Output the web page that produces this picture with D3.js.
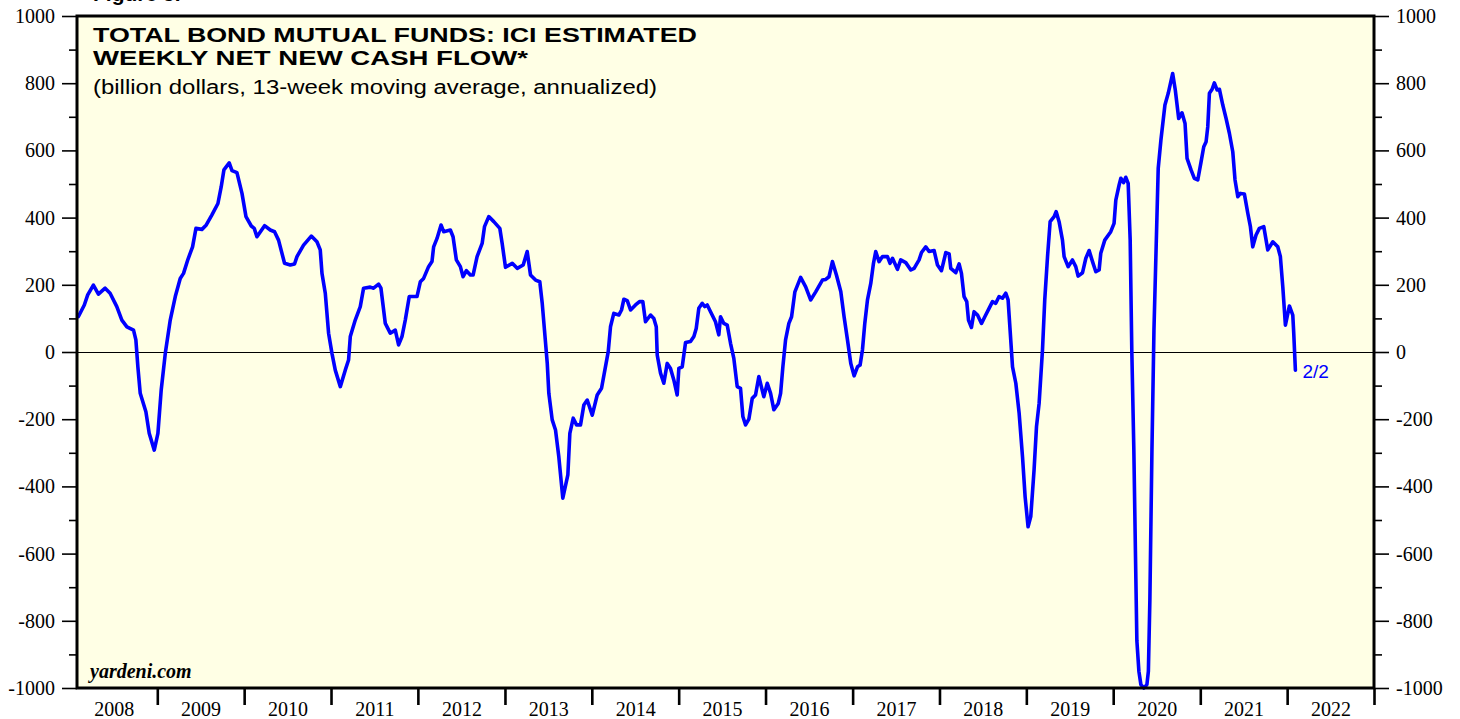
<!DOCTYPE html>
<html>
<head>
<meta charset="utf-8">
<script src="https://cdn.jsdelivr.net/npm/d3@7"></script>
<style>
  body { margin: 0; background: #fff; }
  svg { display: block; }
  .axis text { font-family: "Liberation Serif", "Times New Roman", serif; font-size: 20px; fill: #000; }
  .axis line { stroke: #000; }
  .axis .domain { display: none; }
  .title { font-family: "Liberation Sans", Arial, sans-serif; font-weight: bold; font-size: 21px; fill: #000; }
  .subtitle { font-family: "Liberation Sans", Arial, sans-serif; font-size: 20px; fill: #000; }
  .source { font-family: "Liberation Serif", "Times New Roman", serif; font-weight: bold; font-style: italic; font-size: 20px; fill: #000; }
</style>
</head>
<body>
<div id="chart"></div>
<script>
var periods = [
  2008.093, 2008.162, 2008.201, 2008.266, 2008.324, 2008.401, 2008.458, 2008.535, 2008.593, 2008.651,
  2008.727, 2008.754, 2008.777, 2008.804, 2008.869, 2008.907, 2008.965, 2009.007, 2009.045, 2009.092,
  2009.149, 2009.207, 2009.264, 2009.302, 2009.353, 2009.406, 2009.445, 2009.514, 2009.564, 2009.629,
  2009.698, 2009.736, 2009.767, 2009.828, 2009.860, 2009.917, 2009.975, 2010.021, 2010.082, 2010.116,
  2010.147, 2010.235, 2010.301, 2010.350, 2010.396, 2010.465, 2010.531, 2010.580, 2010.608, 2010.684,
  2010.773, 2010.838, 2010.876, 2010.896, 2010.934, 2010.972, 2011.011, 2011.049, 2011.107, 2011.164,
  2011.202, 2011.222, 2011.279, 2011.337, 2011.375, 2011.452, 2011.490, 2011.548, 2011.575, 2011.625,
  2011.682, 2011.740, 2011.778, 2011.817, 2011.855, 2011.901, 2011.990, 2012.028, 2012.066, 2012.123,
  2012.162, 2012.181, 2012.220, 2012.266, 2012.296, 2012.373, 2012.404, 2012.442, 2012.488, 2012.519,
  2012.557, 2012.603, 2012.634, 2012.680, 2012.738, 2012.765, 2012.814, 2012.872, 2012.941, 2012.968,
  2013.006, 2013.084, 2013.141, 2013.210, 2013.256, 2013.294, 2013.352, 2013.401, 2013.429, 2013.455,
  2013.487, 2013.505, 2013.544, 2013.582, 2013.620, 2013.666, 2013.724, 2013.747, 2013.786, 2013.824,
  2013.870, 2013.908, 2013.947, 2014.005, 2014.062, 2014.112, 2014.150, 2014.189, 2014.215, 2014.253,
  2014.311, 2014.342, 2014.369, 2014.408, 2014.446, 2014.503, 2014.549, 2014.587, 2014.618, 2014.676,
  2014.714, 2014.742, 2014.753, 2014.791, 2014.829, 2014.868, 2014.906, 2014.944, 2014.983, 2015.002,
  2015.041, 2015.079, 2015.136, 2015.175, 2015.202, 2015.232, 2015.271, 2015.301, 2015.329, 2015.367,
  2015.424, 2015.462, 2015.482, 2015.520, 2015.559, 2015.597, 2015.635, 2015.674, 2015.712, 2015.739,
  2015.770, 2015.808, 2015.847, 2015.885, 2015.923, 2015.980, 2016.020, 2016.058, 2016.096, 2016.146,
  2016.173, 2016.199, 2016.230, 2016.268, 2016.299, 2016.337, 2016.403, 2016.461, 2016.518, 2016.576,
  2016.653, 2016.691, 2016.729, 2016.768, 2016.814, 2016.864, 2016.902, 2016.941, 2016.979, 2017.017,
  2017.056, 2017.086, 2017.113, 2017.140, 2017.171, 2017.209, 2017.240, 2017.266, 2017.304, 2017.344,
  2017.401, 2017.431, 2017.459, 2017.516, 2017.554, 2017.612, 2017.670, 2017.708, 2017.765, 2017.793,
  2017.842, 2017.880, 2017.938, 2017.977, 2018.023, 2018.073, 2018.111, 2018.130, 2018.188, 2018.226,
  2018.253, 2018.283, 2018.314, 2018.334, 2018.368, 2018.398, 2018.438, 2018.484, 2018.522, 2018.571,
  2018.610, 2018.648, 2018.686, 2018.725, 2018.763, 2018.790, 2018.813, 2018.841, 2018.879, 2018.917,
  2018.956, 2018.986, 2019.020, 2019.051, 2019.089, 2019.117, 2019.147, 2019.186, 2019.212, 2019.244,
  2019.274, 2019.320, 2019.343, 2019.377, 2019.416, 2019.435, 2019.481, 2019.531, 2019.569, 2019.596,
  2019.647, 2019.685, 2019.723, 2019.762, 2019.800, 2019.838, 2019.857, 2019.903, 2019.972, 2020.010,
  2020.030, 2020.068, 2020.088, 2020.119, 2020.145, 2020.172, 2020.195, 2020.214, 2020.237, 2020.255,
  2020.272, 2020.295, 2020.318, 2020.352, 2020.387, 2020.404, 2020.421, 2020.445, 2020.468, 2020.517,
  2020.548, 2020.594, 2020.632, 2020.683, 2020.713, 2020.752, 2020.790, 2020.825, 2020.848, 2020.894,
  2020.932, 2020.971, 2021.009, 2021.040, 2021.067, 2021.086, 2021.105, 2021.136, 2021.162, 2021.193,
  2021.220, 2021.259, 2021.297, 2021.335, 2021.374, 2021.400, 2021.432, 2021.461, 2021.508, 2021.547,
  2021.577, 2021.604, 2021.642, 2021.680, 2021.731, 2021.777, 2021.835, 2021.892, 2021.922, 2021.950,
  2021.980, 2022.026, 2022.065, 2022.076, 2022.095
];

// billion dollars, 13-week moving average, annualized
var netFlows = [
  105, 140, 170, 199, 172, 190, 175, 135, 95, 75,
  65, 36, -44, -123, -178, -242, -292, -242, -113, -4,
  95, 165, 219, 234, 276, 313, 368, 365, 378, 408,
  442, 492, 542, 563, 540, 534, 472, 403, 375, 368,
  343, 376, 363, 358, 333, 264, 259, 262, 284, 318,
  345, 328, 304, 234, 175, 56, -4, -54, -103, -54,
  -24, 46, 95, 135, 190, 193, 190, 202, 190, 85,
  56, 65, 21, 46, 95, 165, 165, 209, 219, 254,
  269, 313, 338, 378, 358, 363, 343, 274, 254, 224,
  242, 229, 229, 284, 323, 373, 403, 388, 368, 323,
  252, 264, 249, 259, 299, 229, 214, 209, 145, 65,
  -34, -123, -202, -232, -312, -435, -366, -242, -197, -217,
  -217, -158, -143, -188, -128, -108, -54, 1, 75, 115,
  110, 125, 157, 153, 125, 140, 150, 150, 90, 110,
  100, 75, -9, -63, -93, -34, -49, -83, -128, -49,
  -44, 28, 31, 46, 70, 130, 145, 135, 140, 120,
  90, 51, 105, 85, 80, 26, -19, -103, -108, -192,
  -217, -200, -138, -128, -73, -133, -93, -123, -172, -153,
  -123, -44, 36, 85, 105, 179, 222, 194, 155, 179,
  214, 216, 224, 269, 229, 180, 105, 36, -34, -71,
  -44, -39, 6, 85, 155, 204, 264, 299, 269, 284,
  284, 264, 279, 246, 274, 266, 244, 249, 274, 296,
  313, 299, 302, 259, 242, 296, 292, 249, 236, 262,
  234, 165, 150, 95, 73, 120, 110, 85, 105, 130,
  150, 145, 165, 160, 175, 155, 65, -44, -93, -182,
  -312, -431, -520, -490, -351, -222, -153, 6, 155, 284,
  388, 403, 418, 388, 333, 284, 254, 274, 254, 226,
  236, 279, 302, 269, 239, 244, 294, 333, 358, 383,
  452, 497, 517, 504, 520, 502, 333, 0, -290, -590,
  -860, -950, -990, -1000, -990, -950, -740, -290, 65, 547,
  631, 735, 770, 829, 780, 695, 712, 680, 576, 542,
  517, 512, 566, 611, 626, 670, 770, 782, 801, 780,
  782, 735, 695, 651, 596, 512, 462, 472, 470, 413,
  373, 313, 348, 368, 373, 304, 328, 313, 284, 194,
  80, 137, 110, 56, -54
];

var yearLabels = d3.range(2008, 2023);
var yTicks = d3.range(-1000, 1001, 200);
var yMinorTicks = d3.range(-900, 1000, 200);
var lastLabel = "2/2";
var titleLines = ["TOTAL BOND MUTUAL FUNDS: ICI ESTIMATED", "WEEKLY NET NEW CASH FLOW*"];
var subtitle = "(billion dollars, 13-week moving average, annualized)";

function toDate(t) {
  var yr = Math.floor(t), start = new Date(yr, 0, 1), end = new Date(yr + 1, 0, 1);
  return new Date(+start + (t - yr) * (end - start));
}

var data = periods.map(function (t, i) { return { date: toDate(t), value: netFlows[i] }; });

var margin = { top: 16, right: 86, bottom: 31, left: 77 },
  width = 1460 - margin.left - margin.right,
  height = 719 - margin.top - margin.bottom;

var x = d3.scaleTime()
  .domain([toDate(2008.078), new Date(2023, 0, 1)])
  .range([0, width]);

var y = d3.scaleLinear()
  .domain([-1000, 1000])
  .range([height, 0]);

var svg = d3.select("#chart").append("svg")
  .attr("width", width + margin.left + margin.right)
  .attr("height", height + margin.top + margin.bottom);

// figure caption, cut off at the top edge as in the original
svg.append("text")
  .attr("class", "title")
  .attr("x", 93)
  .attr("y", 1)
  .text("Figure 5.");

var g = svg.append("g")
  .attr("transform", "translate(" + margin.left + "," + margin.top + ")");

g.append("rect")
  .attr("width", width)
  .attr("height", height)
  .attr("fill", "#ffffe5");

var fmt = function (d) { return String(d); };

// left axis
g.append("g").attr("class", "axis")
  .call(d3.axisLeft(y).tickValues(yTicks).tickSize(15).tickPadding(7).tickFormat(fmt))
  .selectAll("line").attr("stroke-width", 1.6);
g.append("g").attr("class", "axis")
  .call(d3.axisLeft(y).tickValues(yMinorTicks).tickSize(8).tickFormat(""))
  .selectAll("line").attr("stroke-width", 1.6);

// right axis
g.append("g").attr("class", "axis")
  .attr("transform", "translate(" + width + ",0)")
  .call(d3.axisRight(y).tickValues(yTicks).tickSize(15).tickPadding(7).tickFormat(fmt))
  .selectAll("line").attr("stroke-width", 1.6);
g.append("g").attr("class", "axis")
  .attr("transform", "translate(" + width + ",0)")
  .call(d3.axisRight(y).tickValues(yMinorTicks).tickSize(8).tickFormat(""))
  .selectAll("line").attr("stroke-width", 1.6);

// bottom axis: ticks at year boundaries, labels mid-year
g.append("g").attr("class", "axis")
  .attr("transform", "translate(0," + height + ")")
  .call(d3.axisBottom(x)
    .tickValues(yearLabels.slice(1).concat([2023]).map(function (yr) { return new Date(yr, 0, 1); }))
    .tickSize(17).tickFormat(""))
  .selectAll("line").attr("stroke-width", 2.6);
g.append("g").attr("class", "axis")
  .attr("transform", "translate(0," + height + ")")
  .call(d3.axisBottom(x)
    .tickValues(yearLabels.map(function (yr) { return new Date(yr, 6, 2); }))
    .tickSize(0).tickPadding(14).tickFormat(d3.timeFormat("%Y")));

// zero line
g.append("line")
  .attr("x1", 0).attr("x2", width)
  .attr("y1", y(0)).attr("y2", y(0))
  .attr("stroke", "#000")
  .attr("stroke-width", 1)
  .attr("shape-rendering", "crispEdges");

var line = d3.line()
  .x(function (d) { return x(d.date); })
  .y(function (d) { return y(d.value); });

g.append("path")
  .datum(data)
  .attr("d", line)
  .attr("fill", "none")
  .attr("stroke", "#0000ff")
  .attr("stroke-width", 3.6)
  .attr("stroke-linejoin", "round")
  .attr("stroke-linecap", "round");

var last = data[data.length - 1];
g.append("text")
  .attr("x", x(last.date) + 7)
  .attr("y", y(last.value) + 8)
  .attr("font-family", "'Liberation Sans', Arial, sans-serif")
  .attr("font-size", 19)
  .attr("fill", "#0000ff")
  .text(lastLabel);

// frame
g.append("rect")
  .attr("width", width)
  .attr("height", height)
  .attr("fill", "none")
  .attr("stroke", "#000")
  .attr("stroke-width", 3);

g.selectAll(".title-line")
  .data(titleLines)
  .enter().append("text")
  .attr("class", "title")
  .attr("x", 16)
  .attr("y", function (d, i) { return 26 + i * 23; })
  .attr("textLength", function (d, i) { return i === 0 ? 604 : 435; })
  .attr("lengthAdjust", "spacingAndGlyphs")
  .text(function (d) { return d; });

g.append("text")
  .attr("class", "subtitle")
  .attr("x", 16)
  .attr("y", 78)
  .attr("textLength", 564)
  .attr("lengthAdjust", "spacingAndGlyphs")
  .text(subtitle);

g.append("text")
  .attr("class", "source")
  .attr("x", 13)
  .attr("y", height - 10)
  .text("yardeni.com");
</script>
</body>
</html>
